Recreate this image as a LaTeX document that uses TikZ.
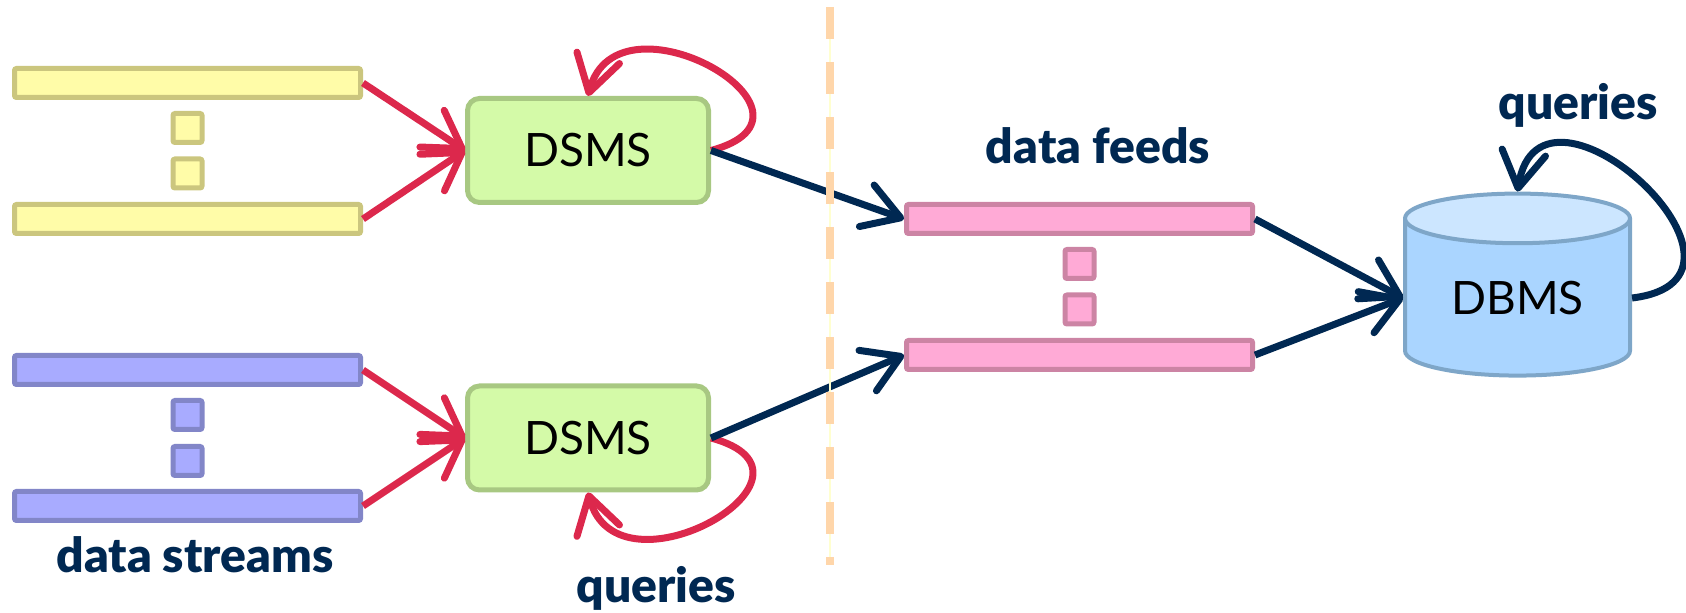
\documentclass[tikz,border=0pt]{standalone}
\usepackage{fontspec}
\setmainfont{Lato}
\newfontfamily\labelfont{Lato Black}
\usetikzlibrary{arrows.meta}
\usetikzlibrary{shapes.geometric}

\definecolor{yellowfill}{RGB}{255,252,168}
\definecolor{yellowline}{RGB}{203,198,126}
\definecolor{bluefill}{RGB}{168,171,255}
\definecolor{blueline}{RGB}{130,134,200}
\definecolor{pinkfill}{RGB}{255,170,214}
\definecolor{pinkline}{RGB}{204,132,164}
\definecolor{greenfill}{RGB}{212,250,168}
\definecolor{greenline}{RGB}{168,200,130}
\definecolor{dbfill}{RGB}{170,213,255}
\definecolor{dbtop}{RGB}{204,230,255}
\definecolor{dbline}{RGB}{126,166,200}
\definecolor{queryred}{RGB}{220,40,76}
\definecolor{navy}{RGB}{0,40,82}
\definecolor{dashpeach}{RGB}{255,214,170}
\definecolor{dashline}{RGB}{255,255,208}

\begin{document}
\begin{tikzpicture}[x=0.5pt,y=-0.5pt,
  streambar/.style 2 args={draw=#2,fill=#1,line width=2.5pt,minimum width=173pt,minimum height=14.5pt,inner sep=0pt,rounded corners=1pt},
  gapdot/.style 2 args={draw=#2,fill=#1,line width=2.5pt,minimum size=14.5pt,inner sep=0pt,rounded corners=1pt},
  dsms/.style={draw=greenline,fill=greenfill,line width=2.5pt,rounded corners=6pt,minimum width=120.5pt,minimum height=52pt,font=\fontsize{23}{27}\selectfont},
  dbms/.style={cylinder,shape border rotate=90,aspect=0.375,draw=dbline,line width=2pt,cylinder uses custom fill,cylinder body fill=dbfill,cylinder end fill=dbtop,minimum width=112.5pt,minimum height=91pt,inner sep=0pt,font=\fontsize{23}{27}\selectfont},
  redarrow/.style={draw=queryred,line width=3.5pt,-{Straight Barb[round,length=18pt,width=22pt]}},
  navyarrow/.style={draw=navy,line width=3.5pt,-{Straight Barb[round,length=18pt,width=22pt]}},
  labeltext/.style={text=navy,anchor=base,font=\labelfont\fontsize{24}{28}\selectfont}]
            \useasboundingbox (0,0) rectangle (1686,613);
            \node [streambar={yellowfill}{yellowline}] (ya) at (187.5,83) {};
            \node [gapdot={yellowfill}{yellowline}] (yb) at (187.5,128) {};
            \node [gapdot={yellowfill}{yellowline}] (yc) at (187.5,173.5) {};
            \node [streambar={yellowfill}{yellowline}] (yd) at (187.5,219) {};
            \node [streambar={bluefill}{blueline}] (ba) at (187.5,370) {};
            \node [gapdot={bluefill}{blueline}] (bb) at (187.5,415) {};
            \node [gapdot={bluefill}{blueline}] (bc) at (187.5,461) {};
            \node [streambar={bluefill}{blueline}] (bd) at (187.5,506) {};
            \node [dsms] (da) at (588,150.5) {DSMS};
            \node [dsms] (db) at (588,438) {DSMS};
            \node [streambar={pinkfill}{pinkline}] (pa) at (1079.5,219) {};
            \node [gapdot={pinkfill}{pinkline}] (pb) at (1079.5,264) {};
            \node [gapdot={pinkfill}{pinkline}] (pc) at (1079.5,309.5) {};
            \node [streambar={pinkfill}{pinkline}] (pd) at (1079.5,355) {};
            \node [dbms] (db0) at (1517.5,298) {DBMS};
            \draw [redarrow] (ya.east) -- (da.west);
            \draw [redarrow] (yd.east) -- (da.west);
            \draw [redarrow] (ba.east) -- (db.west);
            \draw [redarrow] (bd.east) -- (db.west);
            \draw [redarrow] (da.east) .. controls +(134,-36) and +(30,-112) .. (da.north);
            \draw [redarrow] (db.east) .. controls +(134,36) and +(30,112) .. (db.south);
            \draw [navyarrow] (da.east) -- (pa.west);
            \draw [navyarrow] (db.east) -- (pd.west);
            \draw [navyarrow] (pa.east) -- (db0.west);
            \draw [navyarrow] (pd.east) -- (db0.west);
            \draw [navyarrow] (db0.east) .. controls +(158,-19) and +(23,-142) .. (db0.north);
            \coordinate (cuttop) at (830,7);
            \coordinate (cutbottom) at (830,565);
            \draw [dashline,line width=1pt] (cuttop) -- (cutbottom);
            \draw [dashpeach,line width=4pt,dash pattern=on 16pt off 11.5pt] (cuttop) -- (cutbottom);
            \node [labeltext] (streamlabel) at (195,573) {data streams};
            \node [labeltext] (querylabel) at (656,603) {queries};
            \node [labeltext] (feedlabel) at (1098,164) {data feeds};
            \node [labeltext] (dbquerylabel) at (1578,120) {queries};
        \end{tikzpicture}
\end{document}
